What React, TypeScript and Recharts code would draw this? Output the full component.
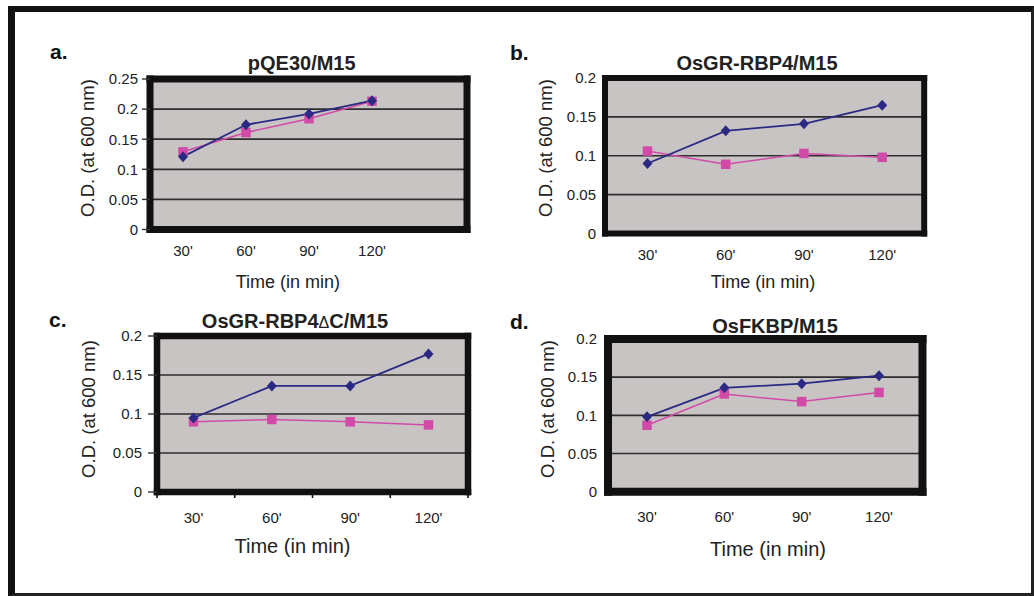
import React from 'react'
import { LineChart, Line, XAxis, YAxis, CartesianGrid } from 'recharts'

// time points shared by all four panels
const timeLabels = ["30'", "60'", "90'", "120'"]

// O.D. readings, blue = diamonds, pink = squares
const pqeBlue = [0.121, 0.174, 0.192, 0.214]
const pqePink = [0.129, 0.161, 0.184, 0.213]
const rbp4Blue = [0.09, 0.132, 0.141, 0.165]
const rbp4Pink = [0.106, 0.089, 0.103, 0.098]
const rbp4dcBlue = [0.095, 0.136, 0.136, 0.177]
const rbp4dcPink = [0.09, 0.093, 0.09, 0.086]
const fkbpBlue = [0.098, 0.136, 0.1415, 0.152]
const fkbpPink = [0.087, 0.128, 0.118, 0.13]

const ticksWide = [0, 0.05, 0.1, 0.15, 0.2, 0.25]
const ticksNarrow = [0, 0.05, 0.1, 0.15, 0.2]

const yTitle = 'O.D. (at 600 nm)'
const xTitle = 'Time (in min)'

const FONT = '"Liberation Sans", Arial, sans-serif'
const TEXT = '#222'
const GRAY = '#c8c4c4'
const BLUE = '#2a2a84'
const PINK = '#d14aa8'

const edges = timeLabels.map((_, i) => i).concat(timeLabels.length)

const diamond = (p: any) => (
  <polygon
    key={`dm-${p.index}`}
    points={`${p.cx},${p.cy - 5.5} ${p.cx + 5},${p.cy} ${p.cx},${p.cy + 5.5} ${p.cx - 5},${p.cy}`}
    fill={BLUE}
  />
)

const square = (p: any) => (
  <rect key={`sq-${p.index}`} x={p.cx - 4.75} y={p.cy - 4.75} width={9.5} height={9.5} fill={PINK} />
)

type Plot = { x0: number; y0: number; x1: number; y1: number }

function Panel({
  blue,
  pink,
  yTicks,
  plot,
  border,
  yTickSize,
  yTickMargin,
  xLabelGap,
  pad,
  showEdges,
}: {
  blue: number[]
  pink: number[]
  yTicks: number[]
  plot: Plot
  border: number
  yTickSize: number
  yTickMargin: number
  xLabelGap: number
  pad: { left: number; right: number }
  showEdges?: boolean
}) {
  const rows = timeLabels.map((t, i) => ({ time: t, slot: i, blue: blue[i], pink: pink[i] }))
  const yw = 60
  const m = 20
  const xh = 50
  const left = plot.x0 - yw
  const top = plot.y0 - m
  const width = plot.x1 - left + m
  const height = plot.y1 - top + xh
  const n = timeLabels.length
  const yMax = yTicks[yTicks.length - 1]
  const frame = { stroke: '#111', strokeWidth: border, strokeLinecap: 'square' as const }

  return (
    <div style={{ position: 'absolute', left, top, width, height }}>
      <LineChart
        width={width}
        height={height}
        data={rows}
        margin={{ top: m - 1, right: m - 1, bottom: 0, left: 0 }}
        style={{ fontFamily: FONT }}
      >
        <CartesianGrid xAxisId="axLabel" vertical={false} fill={GRAY} fillOpacity={1} stroke="#2e2e2e" strokeWidth={1.7} />
        <XAxis
          xAxisId="axLabel"
          dataKey="time"
          height={xh - 1}
          padding={pad}
          axisLine={false}
          tickLine={false}
          tickSize={0}
          tickMargin={xLabelGap - 1}
          interval={0}
          tick={{ fontSize: 15, fill: TEXT }}
        />
        <XAxis
          xAxisId="axEdge"
          dataKey="slot"
          type="number"
          domain={[0, n]}
          ticks={edges}
          allowDataOverflow
          height={1}
          tickFormatter={() => ''}
          axisLine={frame}
          tickLine={showEdges ? { stroke: '#111', strokeWidth: 1.6 } : false}
          tickSize={6}
        />
        <XAxis xAxisId="top" dataKey="time" orientation="top" height={1} tick={false} tickLine={false} axisLine={frame} />
        <YAxis
          domain={[0, yMax]}
          ticks={yTicks}
          width={yw}
          interval={0}
          axisLine={frame}
          tickLine={yTickSize > 0 ? { stroke: '#333', strokeWidth: 1.4 } : false}
          tickSize={yTickSize}
          tickMargin={yTickMargin}
          tick={{ fontSize: 15, fill: TEXT }}
        />
        <YAxis
          yAxisId="right"
          orientation="right"
          domain={[0, yMax]}
          width={1}
          tick={false}
          tickLine={false}
          axisLine={frame}
        />
        <Line
          xAxisId="axLabel"
          type="linear"
          dataKey="pink"
          stroke={PINK}
          strokeWidth={1.5}
          dot={square}
          activeDot={false}
          isAnimationActive={false}
        />
        <Line
          xAxisId="axLabel"
          type="linear"
          dataKey="blue"
          stroke={BLUE}
          strokeWidth={1.8}
          dot={diamond}
          activeDot={false}
          isAnimationActive={false}
        />
      </LineChart>
    </div>
  )
}

function Txt({
  x,
  y,
  size,
  bold,
  rotate,
  children,
}: {
  x: number
  y: number
  size: number
  bold?: boolean
  rotate?: boolean
  children: React.ReactNode
}) {
  return (
    <div
      style={{
        position: 'absolute',
        left: x,
        top: y,
        transform: `translate(-50%, -50%)${rotate ? ' rotate(-90deg)' : ''}`,
        fontSize: size,
        fontWeight: bold ? 700 : 400,
        lineHeight: 1,
        whiteSpace: 'nowrap',
        color: TEXT,
        fontFamily: FONT,
      }}
    >
      {children}
    </div>
  )
}

function Letter({ x, top, children }: { x: number; top: number; children: React.ReactNode }) {
  return (
    <div
      style={{
        position: 'absolute',
        left: x,
        top,
        fontSize: 21,
        fontWeight: 700,
        lineHeight: 1,
        color: '#111',
        fontFamily: FONT,
      }}
    >
      {children}
    </div>
  )
}

export default function App() {
  return (
    <div
      style={{
        position: 'absolute',
        left: 0,
        top: 0,
        width: 1034,
        height: 596,
        background: '#fff',
        overflow: 'hidden',
      }}
    >
      <div
        style={{
          position: 'absolute',
          left: 8,
          top: 6,
          width: 1026,
          height: 590,
          boxSizing: 'border-box',
          borderLeft: '7px solid #111',
          borderTop: '6px solid #111',
          borderRight: '3px solid #222',
          borderBottom: '3px solid #222',
        }}
      />

      <Panel
        blue={pqeBlue}
        pink={pqePink}
        yTicks={ticksWide}
        plot={{ x0: 150, y0: 78.5, x1: 467, y1: 229 }}
        border={7}
        yTickSize={8}
        yTickMargin={4}
        xLabelGap={16}
        pad={{ left: 33, right: 95 }}
      />
      <Panel
        blue={rbp4Blue}
        pink={rbp4Pink}
        yTicks={ticksNarrow}
        plot={{ x0: 604.5, y0: 78.4, x1: 923.7, y1: 233.9 }}
        border={6}
        yTickSize={0}
        yTickMargin={9}
        xLabelGap={15.5}
        pad={{ left: 42.5, right: 42 }}
      />
      <Panel
        blue={rbp4dcBlue}
        pink={rbp4dcPink}
        yTicks={ticksNarrow}
        plot={{ x0: 156.5, y0: 336, x1: 467.5, y1: 492 }}
        border={6.5}
        yTickSize={9}
        yTickMargin={6}
        xLabelGap={20}
        pad={{ left: 36.5, right: 39.5 }}
        showEdges
      />
      <Panel
        blue={fkbpBlue}
        pink={fkbpPink}
        yTicks={ticksNarrow}
        plot={{ x0: 608, y0: 339.3, x1: 922.5, y1: 492 }}
        border={8}
        yTickSize={0}
        yTickMargin={11}
        xLabelGap={20}
        pad={{ left: 39, right: 43.5 }}
      />

      <Letter x={50} top={41.2}>a.</Letter>
      <Letter x={510} top={42.2}>b.</Letter>
      <Letter x={49} top={309.2}>c.</Letter>
      <Letter x={510} top={311.2}>d.</Letter>

      <Txt x={301.7} y={62.5} size={20} bold>pQE30/M15</Txt>
      <Txt x={757} y={63.3} size={20} bold>OsGR-RBP4/M15</Txt>
      <Txt x={295} y={320.5} size={20} bold>
        OsGR-RBP4<span style={{ fontSize: 16, fontWeight: 400 }}>Δ</span>C/M15
      </Txt>
      <Txt x={775} y={326.3} size={20} bold>OsFKBP/M15</Txt>

      <Txt x={88.3} y={147.5} size={18.5} rotate>{yTitle}</Txt>
      <Txt x={546} y={148.3} size={18.5} rotate>{yTitle}</Txt>
      <Txt x={89} y={408.5} size={18.5} rotate>{yTitle}</Txt>
      <Txt x={547.5} y={408.5} size={18.5} rotate>{yTitle}</Txt>

      <Txt x={287.8} y={281.5} size={18}>{xTitle}</Txt>
      <Txt x={763} y={281.7} size={18}>{xTitle}</Txt>
      <Txt x={292.5} y={546} size={20}>{xTitle}</Txt>
      <Txt x={768} y={549.3} size={20}>{xTitle}</Txt>
    </div>
  )
}
